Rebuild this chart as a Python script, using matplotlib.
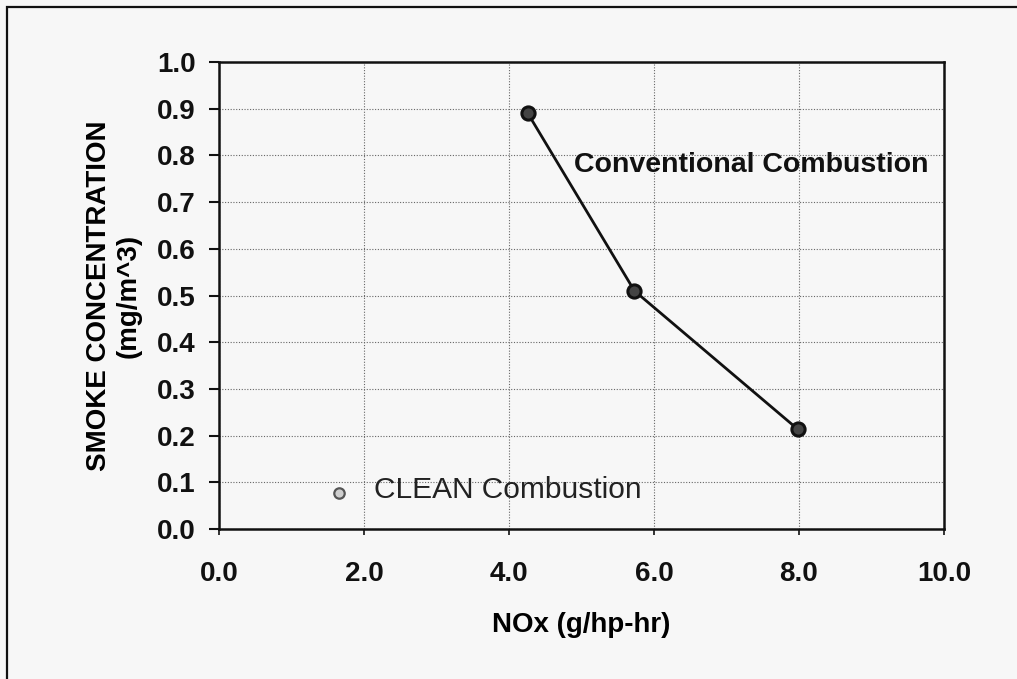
import matplotlib.pyplot as plt
from matplotlib.patches import Rectangle

# conventional combustion curve
conv_nox = [4.26, 5.73, 7.98]
conv_smoke = [0.89, 0.51, 0.214]

# clean combustion point
clean_nox = [1.65]
clean_smoke = [0.077]

xticks = [0.0, 2.0, 4.0, 6.0, 8.0, 10.0]
yticks = [i / 10 for i in range(11)]

bg = "#f7f7f7"
plt.rcParams["font.family"] = ["Liberation Sans", "DejaVu Sans"]

fig = plt.figure(figsize=(10.17, 6.79), dpi=100, facecolor=bg)
ax = fig.add_axes([219 / 1017, 1 - 529 / 679, 725 / 1017, 467 / 679])
ax.set_facecolor(bg)

# frame around the whole chart
fig.patches.append(Rectangle((7 / 1017, -0.05), 1.2, 1 - 7 / 679 + 0.05,
	transform=fig.transFigure, fill=False, edgecolor="#111111", linewidth=1.6))

ax.plot(conv_nox, conv_smoke, "-", color="#111111", linewidth=2.0, zorder=3)
ax.plot(conv_nox, conv_smoke, "o", markersize=9.5, markerfacecolor="#444444",
	markeredgecolor="#111111", markeredgewidth=2.2, zorder=4)
ax.plot(clean_nox, clean_smoke, "o", markersize=7.5, markerfacecolor="#cfcfcf",
	markeredgecolor="#555555", markeredgewidth=1.6, zorder=4)

ax.text(4.9, 0.779, "Conventional Combustion", fontsize=20.5, fontweight="bold",
	va="center", ha="left", color="#111111")
ax.text(2.14, 0.083, "CLEAN Combustion", fontsize=21.5, va="center", ha="left",
	color="#222222")

ax.set_xlim(0, 10)
ax.set_ylim(0, 1.0)
ax.set_xticks(xticks)
ax.set_yticks(yticks)
ax.set_xticklabels(["{:.1f}".format(v) for v in xticks], fontsize=20, fontweight="bold")
ax.set_yticklabels(["{:.1f}".format(v) for v in yticks], fontsize=20, fontweight="bold")
ax.tick_params(axis="y", direction="out", length=7, width=1.5, pad=10, colors="#111111")
ax.tick_params(axis="x", direction="out", length=4, width=1.2, pad=19, colors="#111111")

ax.grid(True, linestyle=(0, (1, 1.5)), color="#666666", linewidth=0.8)
ax.set_axisbelow(True)
for s in ax.spines.values():
	s.set_linewidth(1.8)
	s.set_color("#111111")

ax.set_xlabel("NOx (g/hp-hr)", fontsize=20, fontweight="bold", labelpad=18)
ax.set_ylabel("SMOKE CONCENTRATION\n(mg/m^3)", fontsize=20, fontweight="bold",
	labelpad=11, linespacing=1.15)

fig.savefig("out.png", dpi=100, facecolor=bg)
